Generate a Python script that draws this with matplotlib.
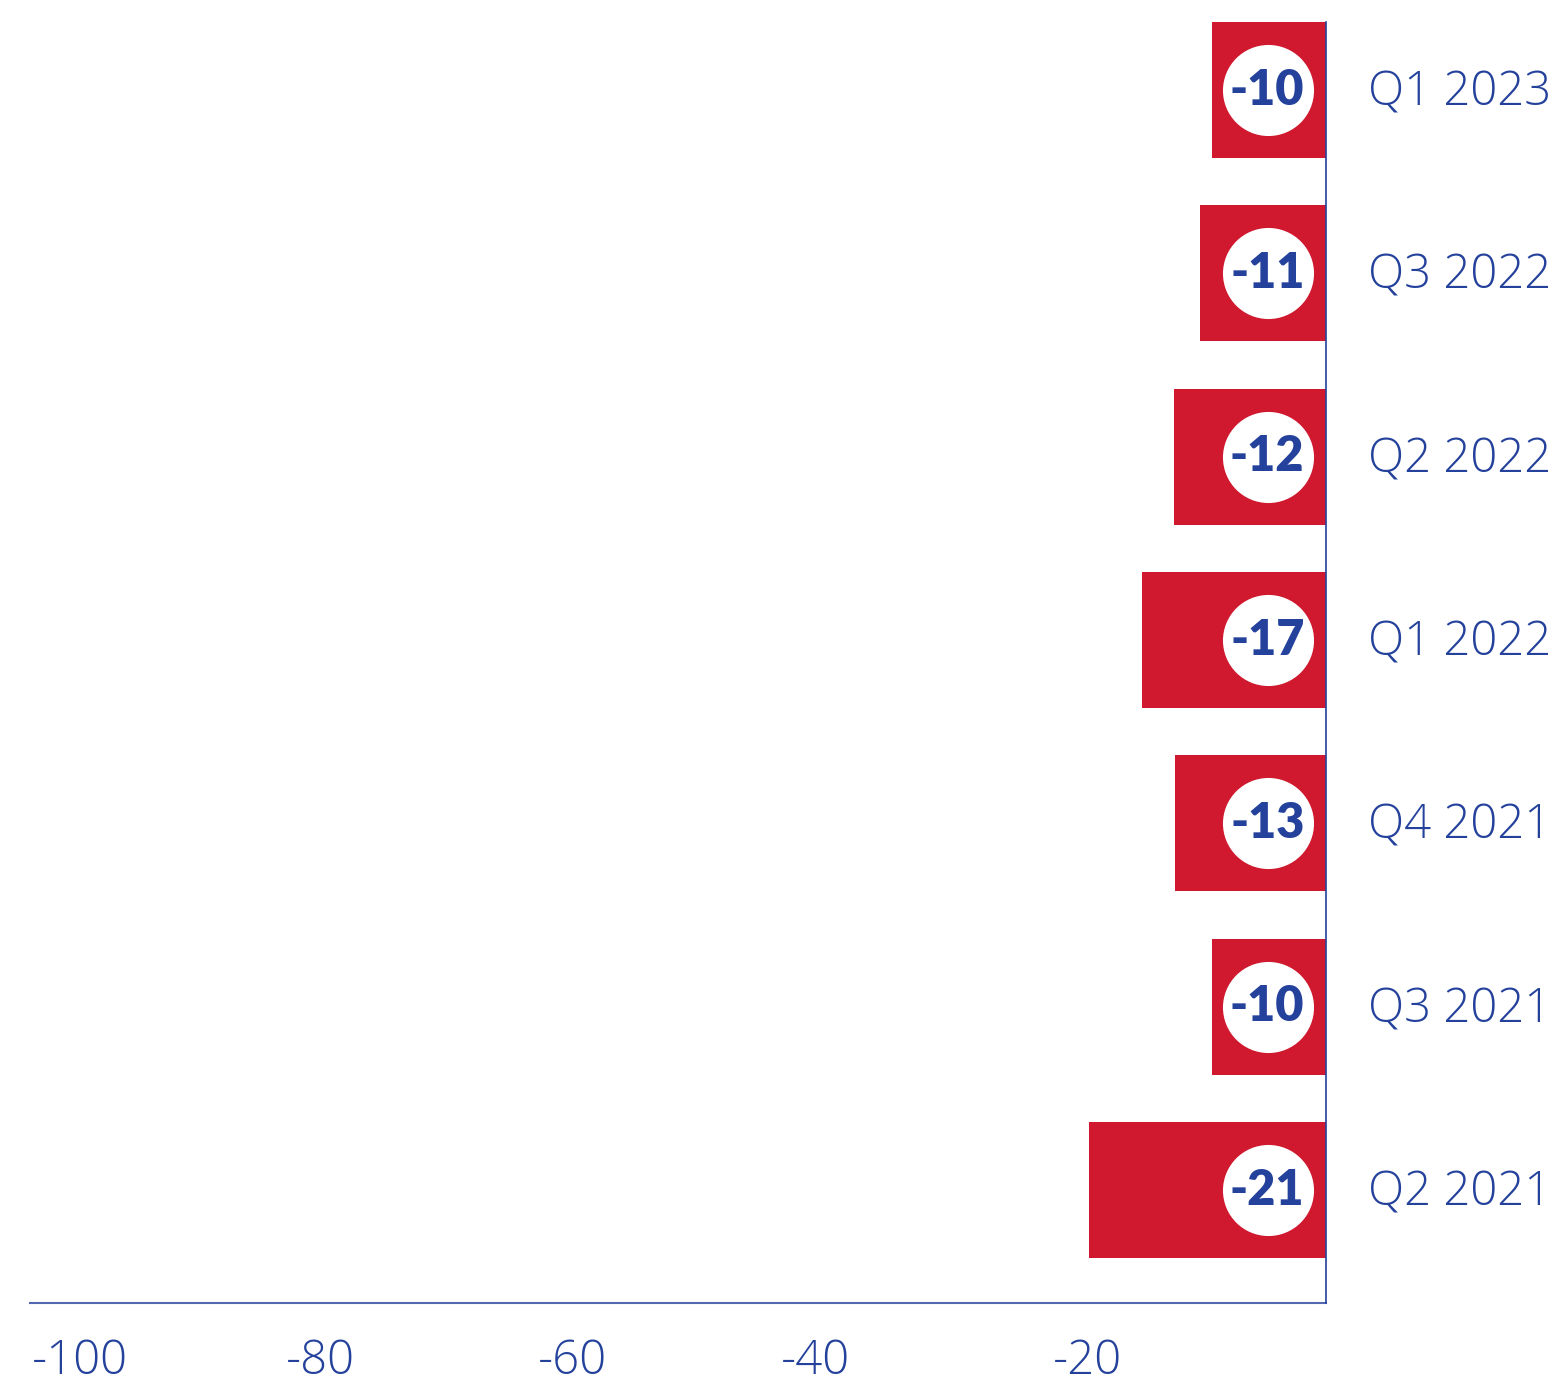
import matplotlib.pyplot as plt

quarters = ["Q2 2021", "Q3 2021", "Q4 2021", "Q1 2022", "Q2 2022", "Q3 2022", "Q1 2023"]
# bar lengths as drawn (unrounded), and the rounded figures printed on the badges
values = [-21.0, -10.1, -13.4, -16.3, -13.45, -11.15, -10.1]
labels = ["-21", "-10", "-13", "-17", "-12", "-11", "-10"]

# tick labels sit where they sit in the original, not on an even grid
tick_pos = [-110.3, -89.0, -66.7, -45.2, -21.1]
tick_labels = ["-100", "-80", "-60", "-40", "-20"]

RED = "#D0192F"
BLUE = "#24419B"
FONT = ["Lato", "DejaVu Sans"]
THIN = ["Open Sans", "Lato", "DejaVu Sans"]

fig = plt.figure(figsize=(15.67, 13.86), dpi=100)
ax = fig.add_axes([30 / 1567, 83 / 1386, 1296 / 1567, 1281 / 1386])

ypos = list(range(len(quarters)))
ax.barh(ypos, values, height=0.742, color=RED, zorder=2)

# white badges with the value, near the zero line
badge_x = [-5.1] * len(values)
ax.scatter(badge_x, ypos, s=4300, color="white", zorder=3, linewidths=0)
for y, lab in zip(ypos, labels):
    ax.text(-5.2, y, lab, ha="center", va="center", fontsize=35,
            fontweight="heavy", family=FONT, color=BLUE, zorder=4)

ax.set_xlim(-114.7, 0)
ax.set_ylim(-0.616, 6.371)

ax.set_xticks(tick_pos)
ax.set_xticklabels(tick_labels, fontsize=34, color=BLUE, fontweight="light", family=THIN)
ax.tick_params(axis="x", length=0, pad=25)

ax.yaxis.tick_right()
ax.set_yticks([y + 0.015 for y in ypos])
ax.set_yticklabels(quarters, fontsize=34, color=BLUE, fontweight="light", family=THIN)
ax.tick_params(axis="y", length=0, pad=30)

for s in ["top", "left"]:
    ax.spines[s].set_visible(False)
ax.spines["bottom"].set_color("#5468B0")
ax.spines["bottom"].set_linewidth(1.5)
ax.spines["right"].set_color(BLUE)
ax.spines["right"].set_linewidth(1.2)
ax.spines["right"].set_zorder(5)

fig.savefig("out.png", dpi=100)
